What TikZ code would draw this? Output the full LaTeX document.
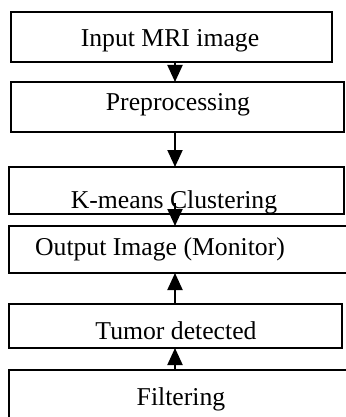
\documentclass[tikz,border=0pt]{standalone}
\usepackage{fontspec}
\setmainfont{Liberation Serif}
\usepackage{tikz}
\usetikzlibrary{arrows.meta, positioning}

\begin{document}
\begin{tikzpicture}[x=0.5pt, y=-0.5pt,
    stepbox/.style={draw, line width=1pt, outer sep=0pt, inner sep=0pt, anchor=north west},
    steptext/.style={anchor=base, inner sep=0pt, font=\fontsize{12.85}{15}\selectfont},
    flow/.style={line width=1pt, -{Triangle[length=8.5pt, width=7.5pt]}}]
    \useasboundingbox (0,0) rectangle (346,417);
    \clip (0,0) rectangle (346,417);
    \coordinate (ax) at (175,0);
    \node[stepbox, minimum width=160.5pt, minimum height=25pt] (mribox) at (11,12) {};
    \node[stepbox, minimum width=166.5pt, minimum height=25pt] (prebox) at (11,82) {};
    \node[stepbox, minimum width=167.5pt, minimum height=23.5pt] (kmbox) at (9,167) {};
    \node[stepbox, minimum width=180.5pt, minimum height=23.5pt] (outbox) at (9,226) {};
    \node[stepbox, minimum width=166.5pt, minimum height=22pt] (tumbox) at (9,304) {};
    \node[stepbox, minimum width=180.5pt, minimum height=25pt] (filbox) at (9,370) {};
    \node[steptext] (mri) at (170,47) {Input MRI image};
    \node[steptext] (pre) at (178,110.5) {Preprocessing};
    \node[steptext] (km) at (174,208.5) {K-means Clustering};
    \node[steptext] (out) at (160,255) {Output Image (Monitor)};
    \node[steptext] (tum) at (176,339) {Tumor detected};
    \node[steptext] (fil) at (181,405) {Filtering};
    \coordinate (kmtail) at (175,203);
    \draw[flow] (mribox.south -| ax) -- (prebox.north -| ax);
    \draw[flow] (prebox.south -| ax) -- (kmbox.north -| ax);
    \draw[flow] (kmtail) -- (outbox.north -| ax);
    \draw[flow] (tumbox.north -| ax) -- (outbox.south -| ax);
    \draw[flow] (filbox.north -| ax) -- (tumbox.south -| ax);
\end{tikzpicture}
\end{document}
